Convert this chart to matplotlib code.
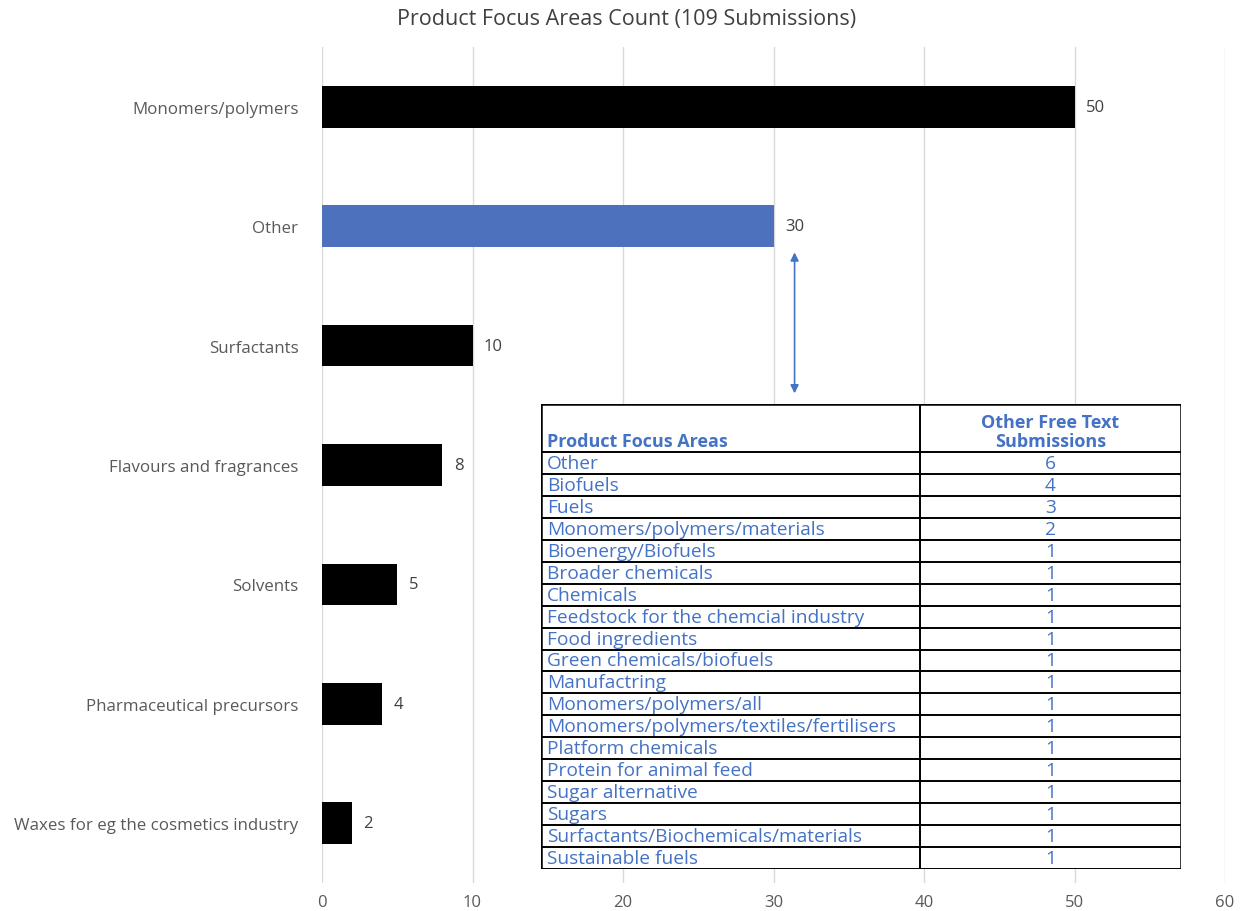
import matplotlib.pyplot as plt
from matplotlib.lines import Line2D

plt.rcParams["font.family"] = ["Open Sans", "DejaVu Sans"]

# bar chart data
categories = [
    "Monomers/polymers",
    "Other",
    "Surfactants",
    "Flavours and fragrances",
    "Solvents",
    "Pharmaceutical precursors",
    "Waxes for eg the cosmetics industry",
]
counts = [50, 30, 10, 8, 5, 4, 2]

# breakdown of the "Other" free text answers
other_areas = [
    "Other",
    "Biofuels",
    "Fuels",
    "Monomers/polymers/materials",
    "Bioenergy/Biofuels",
    "Broader chemicals",
    "Chemicals",
    "Feedstock for the chemcial industry",
    "Food ingredients",
    "Green chemicals/biofuels",
    "Manufactring",
    "Monomers/polymers/all",
    "Monomers/polymers/textiles/fertilisers",
    "Platform chemicals",
    "Protein for animal feed",
    "Sugar alternative",
    "Sugars",
    "Surfactants/Biochemicals/materials",
    "Sustainable fuels",
]
other_counts = [6, 4, 3, 2, 1, 1, 1, 1, 1, 1, 1, 1, 1, 1, 1, 1, 1, 1, 1]

W, H = 1245, 912
BLUE = "#4E71BE"
TXT_BLUE = "#4472C4"
GREY = "#595959"

fig = plt.figure(figsize=(W / 100, H / 100), dpi=100)
ax = fig.add_axes([322 / W, 1 - 884 / H, (1225 - 322) / W, (884 - 48) / H])

colors = [BLUE if c == "Other" else "black" for c in categories]
ypos = list(range(len(categories)))
ax.barh(ypos, counts, height=0.35, color=colors, zorder=3)
for y, v in zip(ypos, counts):
    ax.text(v + 0.75, y, str(v), va="center", ha="left", fontsize=12, color="#404040")

ax.set_xlim(0, 60)
ax.set_ylim(len(categories) - 0.5, -0.5)
ax.set_yticks(ypos)
ax.set_yticklabels(categories, fontsize=12.2, color=GREY)
ax.set_xticks(range(0, 61, 10))
ax.tick_params(axis="both", length=0, labelcolor=GREY)
ax.tick_params(axis="x", labelsize=12, pad=8)
ax.tick_params(axis="y", pad=17)
ax.grid(axis="x", color="#D9D9D9", linewidth=1, zorder=0)
for s in ax.spines.values():
    s.set_visible(False)

fig.text(627 / W, 1 - 20 / H, "Product Focus Areas Count (109 Submissions)",
         ha="center", va="center", fontsize=15.5, color="#404040")

# arrow from the "Other" bar down to the table
ax.annotate("", xy=(31.4, 1.22), xytext=(31.4, 2.4),
            arrowprops=dict(arrowstyle="<|-|>", color=TXT_BLUE, lw=1.2,
                            mutation_scale=12, shrinkA=0, shrinkB=0))

# table drawn on its own axes in pixel units
x0, x1, xm = 541, 1181, 920
y0, yh, y1 = 405, 453, 870
tab = fig.add_axes([x0 / W, 1 - y1 / H, (x1 - x0) / W, (y1 - y0) / H])
tab.set_xlim(x0, x1)
tab.set_ylim(y1, y0)
tab.axis("off")
tab.add_patch(plt.Rectangle((x0, y0), x1 - x0, y1 - y0, facecolor="white",
                            edgecolor="none", zorder=0))

nrows = len(other_areas)
rh = (y1 - yh) / nrows
for i in range(nrows + 1):
    y = yh + i * rh
    tab.add_line(Line2D([x0, x1], [y, y], color="black", lw=1.4))
tab.add_line(Line2D([x0, x1], [y0, y0], color="black", lw=1.8))
tab.add_line(Line2D([x0, x0], [y0, y1], color="black", lw=1.8))
tab.add_line(Line2D([x1, x1], [y0, y1], color="black", lw=1.8))
tab.add_line(Line2D([xm, xm], [y0, y1], color="black", lw=1.4))

FS = 13.8
tab.text(x0 + 6, yh - 2, "Product Focus Areas", ha="left", va="bottom",
         fontsize=13, fontweight="bold", color=TXT_BLUE)
tab.text((xm + x1) / 2, yh - 2, "Other Free Text\nSubmissions", ha="center",
         va="bottom", fontsize=13, fontweight="bold", color=TXT_BLUE,
         linespacing=1.1)
for i, (name, n) in enumerate(zip(other_areas, other_counts)):
    yc = yh + (i + 0.5) * rh
    tab.text(x0 + 6, yc, name, ha="left", va="center", fontsize=FS, color=TXT_BLUE)
    tab.text((xm + x1) / 2, yc, str(n), ha="center", va="center", fontsize=FS,
             color=TXT_BLUE)

fig.savefig("out.png", dpi=100)
